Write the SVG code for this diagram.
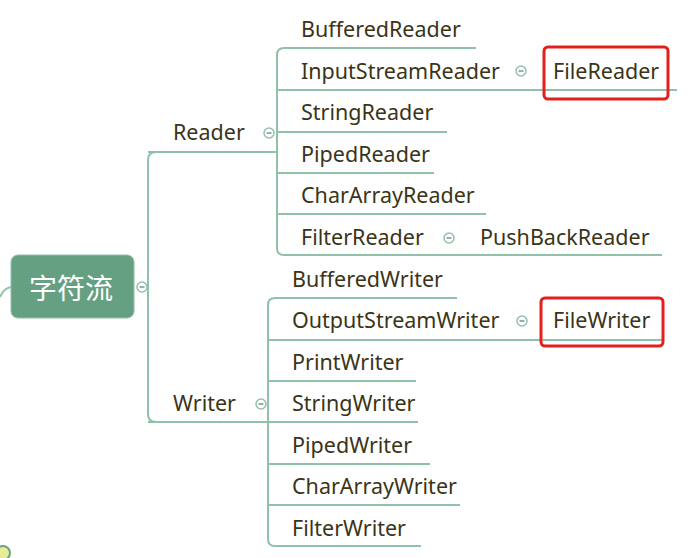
<svg xmlns="http://www.w3.org/2000/svg" width="691" height="558" viewBox="0 0 691 558">
<style>
.t{font-family:"Noto Sans","Liberation Sans",Arial,sans-serif;font-size:21.5px;fill:#3a3418}
.ln{fill:none;stroke:#90c2a9;stroke-width:2}
.tg{fill:#fff;stroke:#90c2a9;stroke-width:1.5}
.mn{stroke:#8a87a8;stroke-width:1.5}
.rb{fill:none;stroke:#e3201b;stroke-width:3}
</style>
<defs>
<g id="tog"><circle r="5" class="tg"/><line x1="-2.5" y1="0" x2="2.5" y2="0" class="mn"/></g>
</defs>
<g id="connectors">
<path class="ln" d="M0,297 Q4,288 11,287"/>
<path class="ln" d="M156,152 Q148,152 148,160 L148,414 Q148,422 156,422"/>
<path class="ln" d="M148,152 L277,152"/>
<path class="ln" d="M148,422 L268,422"/>
<path class="ln" d="M476,48 L284,48 Q277,48 277,55 L277,248 Q277,255 284,255 L662,255"/>
<path class="ln" d="M277,90 L677,90"/>
<path class="ln" d="M277,132 L447,132"/>
<path class="ln" d="M277,173 L434,173"/>
<path class="ln" d="M277,214 L486,214"/>
<path class="ln" d="M457,298 L275,298 Q268,298 268,305 L268,539 Q268,546 275,546 L421,546"/>
<path class="ln" d="M268,340 L662,340"/>
<path class="ln" d="M268,381 L416,381"/>
<path class="ln" d="M268,422 L418,422"/>
<path class="ln" d="M268,464 L430,464"/>
<path class="ln" d="M268,505 L460,505"/>
</g>
<g id="root">
<rect x="11" y="255" width="123" height="63" rx="7" fill="#66a083" stroke="#8fc0a6" stroke-width="1"/>
<text x="71" y="299" text-anchor="middle" style="font-family:'Noto Sans CJK SC','Noto Sans',sans-serif;font-size:28px;fill:#fff">字符流</text>
<use href="#tog" x="142" y="287"/>
</g>
<g id="reader"><text class="t" x="173" y="140">Reader</text><use href="#tog" x="269" y="133"/></g>
<g id="writer"><text class="t" x="173" y="411">Writer</text><use href="#tog" x="261" y="404"/></g>
<g id="bufferedreader"><text class="t" x="301" y="37">BufferedReader</text></g>
<g id="inputstreamreader"><text class="t" x="301" y="79">InputStreamReader</text><use href="#tog" x="521" y="71"/></g>
<g id="filereader"><text class="t" x="553" y="79">FileReader</text><rect class="rb" x="544" y="47" width="124" height="52" rx="4"/></g>
<g id="stringreader"><text class="t" x="301" y="120">StringReader</text></g>
<g id="pipedreader"><text class="t" x="301" y="162">PipedReader</text></g>
<g id="chararrayreader"><text class="t" x="301" y="203">CharArrayReader</text></g>
<g id="filterreader"><text class="t" x="301" y="245">FilterReader</text><use href="#tog" x="449" y="238"/></g>
<g id="pushbackreader"><text class="t" x="480" y="245">PushBackReader</text></g>
<g id="bufferedwriter"><text class="t" x="292" y="287">BufferedWriter</text></g>
<g id="outputstreamwriter"><text class="t" x="292" y="328">OutputStreamWriter</text><use href="#tog" x="522" y="321"/></g>
<g id="filewriter"><text class="t" x="553" y="328">FileWriter</text><rect class="rb" x="541" y="298" width="122" height="48" rx="4"/></g>
<g id="printwriter"><text class="t" x="292" y="370">PrintWriter</text></g>
<g id="stringwriter"><text class="t" x="292" y="411">StringWriter</text></g>
<g id="pipedwriter"><text class="t" x="292" y="453">PipedWriter</text></g>
<g id="chararraywriter"><text class="t" x="292" y="494">CharArrayWriter</text></g>
<g id="filterwriter"><text class="t" x="292" y="536">FilterWriter</text></g>
<circle cx="3" cy="553" r="7" fill="#e6ec9a" stroke="#6aa385" stroke-width="2"/>
</svg>
